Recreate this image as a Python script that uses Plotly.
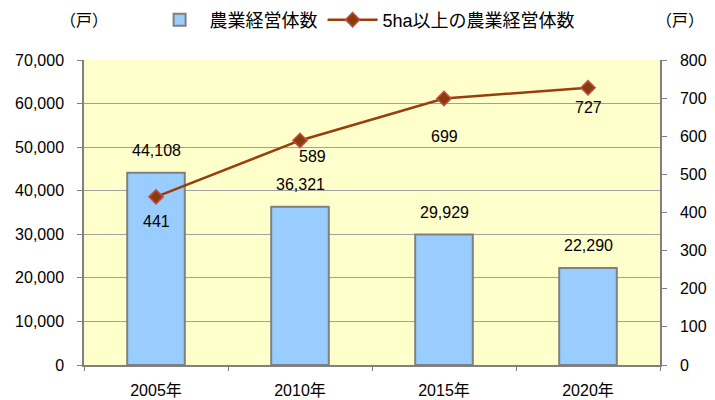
import plotly.graph_objects as go

years = ["2005年", "2010年", "2015年", "2020年"]
farms = [44108, 36321, 29929, 22290]
farms_5ha = [441, 589, 699, 727]
farm5_label_dx = [0, 12, 0, 0]
farm5_label_dy = [-25, -16, -38, -20]

FONT = "Liberation Sans, Noto Sans CJK JP"

fig = go.Figure()

fig.add_trace(go.Bar(
    x=years, y=farms, name="農業経営体数",
    marker=dict(color="#99CCFF", line=dict(color="#808080", width=2)),
    width=0.4, yaxis="y",
))

fig.add_trace(go.Scatter(
    x=years, y=farms_5ha, name="5ha以上の農業経営体数",
    mode="lines+markers", yaxis="y2",
    line=dict(color="#9A3D0C", width=2.5),
    marker=dict(symbol="diamond", size=11, color="#8B3A0A",
                line=dict(color="#C0504D", width=1.5)),
))

# 値ラベル
for x, v in zip(years, farms):
    fig.add_annotation(x=x, y=v, yref="y", text=f"{v:,}", showarrow=False,
                       yshift=22, font=dict(size=16, color="#000000"))
for x, v, dx, dy in zip(years, farms_5ha, farm5_label_dx, farm5_label_dy):
    fig.add_annotation(x=x, y=v, yref="y2", text=f"{v}", showarrow=False,
                       xshift=dx, yshift=dy, font=dict(size=16, color="#000000"))

fig.add_annotation(x=0, y=1.13, xref="paper", yref="paper", text="（戸）",
                   showarrow=False, xanchor="center", yanchor="middle",
                   font=dict(size=16))
fig.add_annotation(x=1.035, y=1.13, xref="paper", yref="paper", text="（戸）",
                   showarrow=False, xanchor="center", yanchor="middle",
                   font=dict(size=16))

# ページの余白(8px)を考慮したマージン
fig.update_layout(
    width=715, height=400,
    margin=dict(l=76, r=63, t=52, b=43, autoexpand=False),
    paper_bgcolor="white", plot_bgcolor="#FFFFCC",
    font=dict(family=FONT, size=16, color="#000000"),
    showlegend=True,
    legend=dict(orientation="h", x=0.488, xanchor="center", yref="container",
                y=0.97, yanchor="middle", font=dict(size=18), itemwidth=50),
    xaxis=dict(showline=True, linecolor="#808080", linewidth=1.5,
               ticks="outside", tickson="boundaries", tickcolor="#808080",
               ticklen=4, ticklabelstandoff=10, tickfont=dict(size=16)),
    yaxis=dict(range=[0, 70000], dtick=10000, tickformat=",",
               showgrid=True, gridcolor="#A0A0A0", gridwidth=1,
               showline=True, linecolor="#808080", linewidth=1.5,
               ticks="outside", tickcolor="#808080", ticklen=5,
               ticklabelstandoff=10, zeroline=False, tickfont=dict(size=16)),
    yaxis2=dict(range=[0, 800], dtick=100, overlaying="y", side="right",
                showgrid=False, showline=True, linecolor="#808080", linewidth=1.5,
                ticks="outside", tickcolor="#808080", ticklen=5,
                ticklabelstandoff=10, zeroline=False, tickfont=dict(size=16)),
)

fig.write_html("out.html")
